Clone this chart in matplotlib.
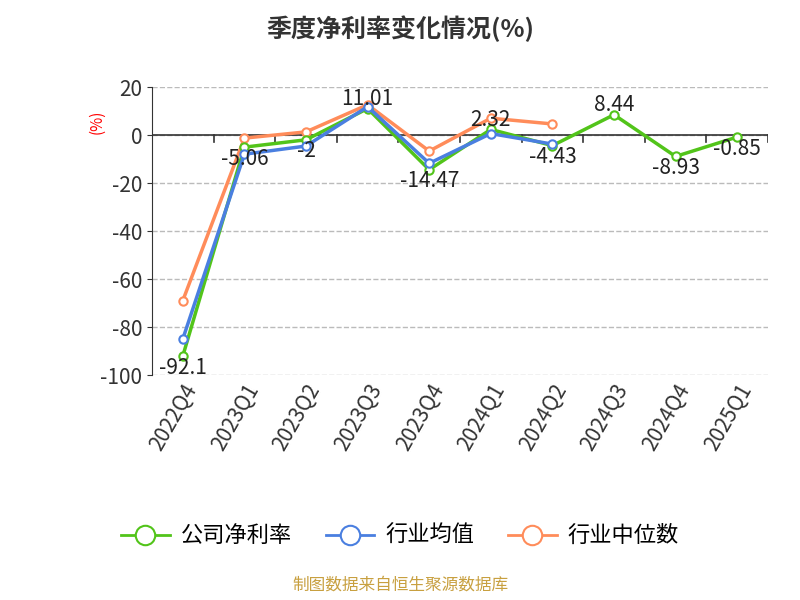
import matplotlib.pyplot as plt
from matplotlib import font_manager
from matplotlib.lines import Line2D

names = {f.name for f in font_manager.fontManager.ttflist}
cjk = [n for n in ['Noto Sans CJK SC', 'Noto Sans CJK JP', 'Noto Sans CJK TC', 'Noto Sans CJK KR'] if n in names]
plt.rcParams['font.family'] = cjk + ['DejaVu Sans']
plt.rcParams['axes.unicode_minus'] = False

quarters = ["2022Q4", "2023Q1", "2023Q2", "2023Q3", "2023Q4",
            "2024Q1", "2024Q2", "2024Q3", "2024Q4", "2025Q1"]
company = [-92.1, -5.06, -2, 11.01, -14.47, 2.32, -4.43, 8.44, -8.93, -0.85]
labels = ["-92.1", "-5.06", "-2", "11.01", "-14.47", "2.32", "-4.43", "8.44", "-8.93", "-0.85"]
industry_avg = [-85, -8, -4.6, 11.8, -11.8, 0.6, -3.8]
industry_med = [-69, -1.3, 1.3, 12.6, -6.7, 7, 4.6]

fig = plt.figure(figsize=(8, 6), dpi=100)
ax = fig.add_axes([0.19, 0.375, 0.77, 0.48])
x = list(range(len(quarters)))

green, blue, orange = '#52c41a', '#4a7fe0', '#ff8c5a'
ax.plot(x, company, color=green, lw=2.5, marker='o', ms=6, mfc='white', mew=1.5, zorder=3)
ax.plot(x[:len(industry_avg)], industry_avg, color=blue, lw=2.5, marker='o', ms=6, mfc='white', mew=1.5, zorder=4)
ax.plot(x[:len(industry_med)], industry_med, color=orange, lw=2.5, marker='o', ms=6, mfc='white', mew=1.5, zorder=2)

for xi, v, t in zip(x, company, labels):
    off = -12 if v < 0 else 10
    ax.text(xi, v + off * 0.4, t, ha='center', va='center', fontsize=15, color='#222222', zorder=5)

ax.set_xlim(-0.5, len(quarters) - 0.5)
ax.set_ylim(-100, 20)
ax.set_yticks(range(-100, 21, 20))
ax.yaxis.grid(True, ls='--', color='#bbbbbb', lw=1)
ax.set_axisbelow(True)
ax.axhline(0, color='#333333', lw=1.2, zorder=1)
for b in [i + 0.5 for i in range(-1, len(quarters))]:
    ax.plot([b, b], [0, -3], color='#333333', lw=1.2, zorder=1)
for s in ['top', 'right', 'bottom']:
    ax.spines[s].set_visible(False)
ax.spines['left'].set_color('#333333')
ax.tick_params(axis='x', length=0, labelsize=15, pad=4)
ax.tick_params(axis='y', labelsize=15, colors='#333333')
ax.set_xticks(x)
ax.set_xticklabels(quarters, rotation=60, ha='right', rotation_mode='anchor', color='#333333')
ax.text(-0.09, 0.88, '(%)', transform=ax.transAxes, rotation=90, color='red', fontsize=11, ha='center', va='center')

fig.suptitle('季度净利率变化情况(%)', fontsize=18, fontweight='bold', y=0.975, color='#333333')

handles = [Line2D([], [], color=c, lw=2, marker='o', ms=14, mfc='white', mew=1.5) for c in (green, blue, orange)]
fig.legend(handles, ['公司净利率', '行业均值', '行业中位数'], loc='center', bbox_to_anchor=(0.5, 0.107),
           ncol=3, frameon=False, fontsize=16, handlelength=2.2, columnspacing=1.5, handletextpad=0.5)
fig.text(0.5, 0.018, '制图数据来自恒生聚源数据库', ha='center', fontsize=12, color='#c8a040')

fig.savefig('out.png', dpi=100)
